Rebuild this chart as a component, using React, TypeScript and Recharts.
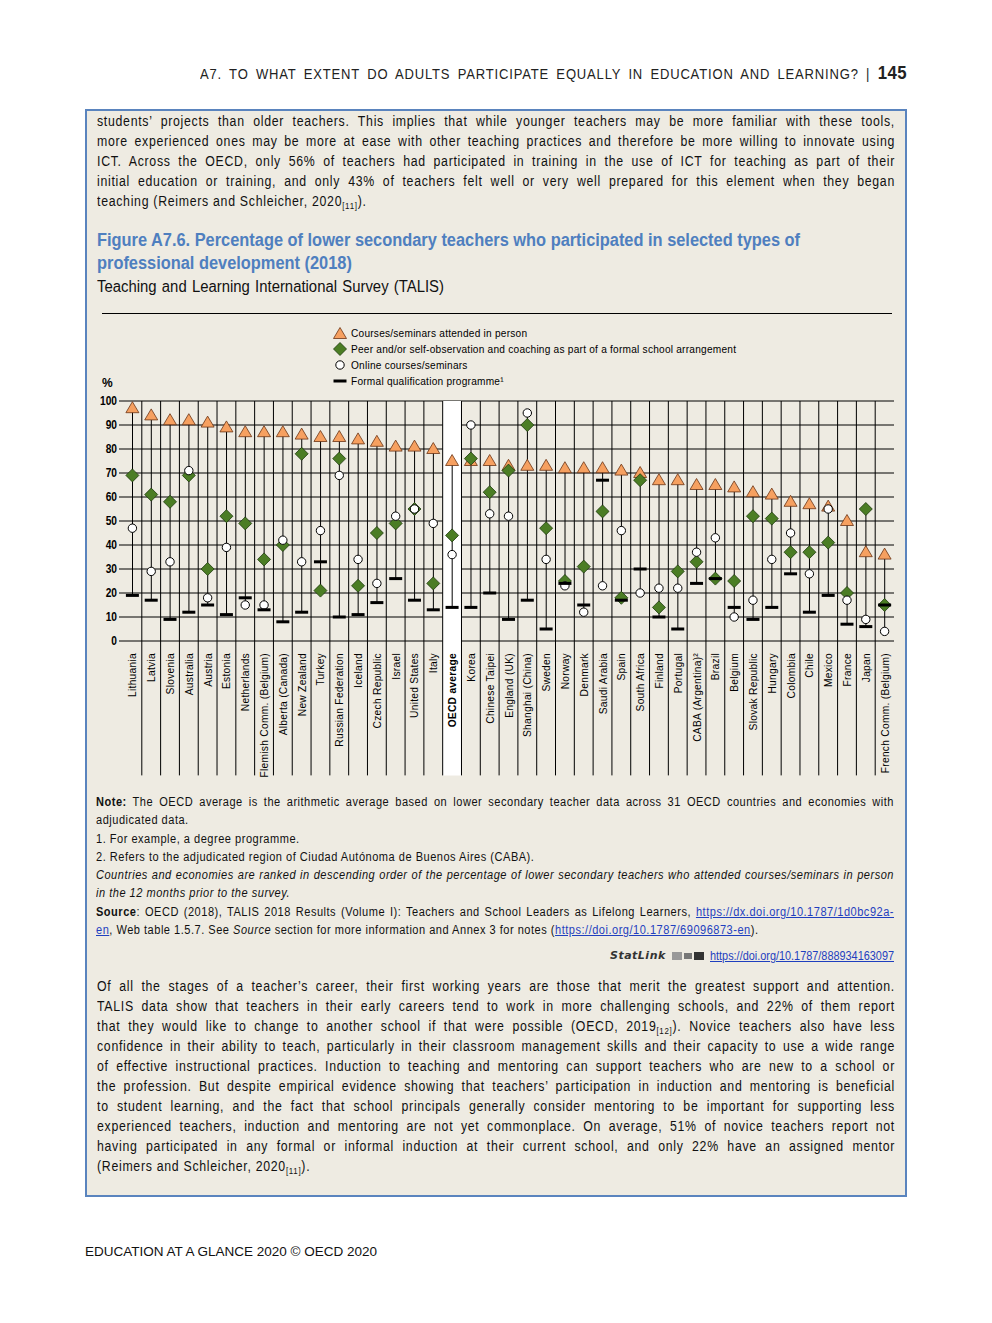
import React from "react";
import {
  ComposedChart,
  Bar,
  Line,
  XAxis,
  YAxis,
  CartesianGrid,
  ReferenceLine,
  ReferenceArea,
} from "recharts";

const categories = [
  "Lithuania", "Latvia", "Slovenia", "Australia", "Austria", "Estonia",
  "Netherlands", "Flemish Comm. (Belgium)", "Alberta (Canada)", "New Zealand",
  "Turkey", "Russian Federation", "Iceland", "Czech Republic", "Israel",
  "United States", "Italy", "OECD average", "Korea", "Chinese Taipei",
  "England (UK)", "Shanghai (China)", "Sweden", "Norway", "Denmark",
  "Saudi Arabia", "Spain", "South Africa", "Finland", "Portugal",
  "CABA (Argentina)²", "Brazil", "Belgium", "Slovak Republic", "Hungary",
  "Colombia", "Chile", "Mexico", "France", "Japan", "French Comm. (Belgium)",
];

const inPerson = [
  97, 94, 92, 92, 91, 89, 87, 87, 87, 86, 85, 85, 84, 83, 81, 81, 80, 75, 75,
  75, 73, 73, 73, 72, 72, 72, 71, 70, 67, 67, 65, 65, 64, 62, 61, 58, 57, 56,
  50, 37, 36,
];
const peer = [
  69, 61, 58, 69, 30, 52, 49, 34, 40, 78, 21, 76, 23, 45, 49, 55, 24, 44, 76,
  62, 71, 90, 47, 25, 31, 54, 18, 67, 14, 29, 33, 26, 25, 52, 51, 37, 37, 41,
  20, 55, 15,
];
const online = [
  47, 29, 33, 71, 18, 39, 15, 15, 42, 33, 46, 69, 34, 24, 52, 55, 49, 36, 90,
  53, 52, 95, 34, 23, 12, 23, 46, 20, 22, 22, 37, 43, 10, 17, 34, 45, 28, 55,
  17, 9, 4,
];
const formal = [
  19, 17, 9, 12, 15, 11, 18, 13, 8, 12, 33, 10, 11, 16, 26, 17, 13, 14, 14,
  20, 9, 17, 5, 24, 15, 67, 17, 30, 10, 5, 24, 26, 14, 9, 14, 28, 12, 19, 7,
  6, 15,
];
const yTicks = [0, 10, 20, 30, 40, 50, 60, 70, 80, 90, 100];
const OECD = "OECD average";

const data = categories.map((name, i) => {
  const vals = [inPerson[i], peer[i], online[i], formal[i]];
  return {
    idx: i,
    name,
    inPerson: inPerson[i],
    peer: peer[i],
    online: online[i],
    formal: formal[i],
    range: [Math.min(...vals), Math.max(...vals)],
  };
});

const SANS = '"Liberation Sans", Arial, sans-serif';
const ORANGE = "#F6A060";
const GREEN = "#4B7D24";
const LINK = "#1F3FBF";

const Triangle = ({ cx, cy }: any) =>
  cx == null ? null : (
    <polygon
      points={`${cx},${cy - 6.5} ${cx + 6.5},${cy + 4.5} ${cx - 6.5},${cy + 4.5}`}
      fill={ORANGE}
      stroke="#6b3414"
      strokeWidth={0.8}
    />
  );
const Diamond = ({ cx, cy }: any) =>
  cx == null ? null : (
    <polygon
      points={`${cx},${cy - 6.5} ${cx + 6.5},${cy} ${cx},${cy + 6.5} ${cx - 6.5},${cy}`}
      fill={GREEN}
      stroke="#1d3a0c"
      strokeWidth={0.8}
    />
  );
const Ring = ({ cx, cy }: any) =>
  cx == null ? null : (
    <circle cx={cx} cy={cy} r={4.2} fill="#fff" stroke="#000" strokeWidth={1} />
  );
const Dash = ({ cx, cy }: any) =>
  cx == null ? null : (
    <rect x={cx - 6.5} y={cy - 1.5} width={13} height={3} fill="#000" />
  );

const CountryTick = ({ x, y, payload }: any) => {
  const name = categories[payload.value];
  if (name == null) return null;
  const bold = name === OECD;
  return (
    <text
      transform={`translate(${x + 4}, ${y + 4}) rotate(-90) scale(0.93, 1)`}
      textAnchor="end"
      fontFamily={SANS}
      fontSize={11}
      letterSpacing={0.3}
      fontWeight={bold ? 700 : 400}
      fill="#000"
    >
      {name}
    </text>
  );
};

const ValueTick = ({ x, y, payload }: any) => (
  <text
    transform={`translate(${x}, ${y + 4}) scale(0.85, 1)`}
    textAnchor="end"
    fontFamily={SANS}
    fontSize={12}
    fontWeight={700}
    fill="#000"
  >
    {payload.value}
  </text>
);

// horizontally condensed block: mimics a narrow typeface with a regular one
const Narrow = ({ width, scale = 0.85, style, children }: any) => (
  <div style={{ width, ...style }}>
    <div
      style={{
        width: width / scale,
        transform: `scaleX(${scale})`,
        transformOrigin: "left top",
      }}
    >
      {children}
    </div>
  </div>
);

const Jl = ({ children, last, style }: any) => (
  <div
    style={{
      whiteSpace: "nowrap",
      textAlign: last ? "left" : "justify",
      textAlignLast: last ? "left" : "justify",
      ...style,
    }}
  >
    {children}
  </div>
);

const Sub = ({ children }: any) => (
  <span style={{ fontSize: 9, position: "relative", top: 3, lineHeight: 0 }}>
    {children}
  </span>
);
const A = ({ children }: any) => (
  <span style={{ color: LINK, textDecoration: "underline" }}>{children}</span>
);

const legendItems = [
  { label: "Courses/seminars attended in person", shape: "tri" },
  {
    label:
      "Peer and/or self-observation and coaching as part of a formal school arrangement",
    shape: "dia",
  },
  { label: "Online courses/seminars", shape: "ring" },
  { label: "Formal qualification programme¹", shape: "dash" },
];

const LegendIcon = ({ shape }: { shape: string }) => (
  <svg width={14} height={14} style={{ marginRight: 4, flex: "none" }}>
    {shape === "tri" && <Triangle cx={7} cy={8} />}
    {shape === "dia" && <Diamond cx={7} cy={7} />}
    {shape === "ring" && <Ring cx={7} cy={7} />}
    {shape === "dash" && <Dash cx={7} cy={7} />}
  </svg>
);

const para1 = [
  "students’ projects than older teachers. This implies that while younger teachers may be more familiar with these tools,",
  "more experienced ones may be more at ease with other teaching practices and therefore be more willing to innovate using",
  "ICT. Across the OECD, only 56% of teachers had participated in training in the use of ICT for teaching as part of their",
  "initial education or training, and only 43% of teachers felt well or very well prepared for this element when they began",
];

const para2 = [
  "Of all the stages of a teacher’s career, their first working years are those that merit the greatest support and attention.",
  "TALIS data show that teachers in their early careers tend to work in more challenging schools, and 22% of them report",
  null,
  "confidence in their ability to teach, particularly in their classroom management skills and their capacity to use a wide range",
  "of effective instructional practices. Induction to teaching and mentoring can support teachers who are new to a school or",
  "the profession. But despite empirical evidence showing that teachers’ participation in induction and mentoring is beneficial",
  "to student learning, and the fact that school principals generally consider mentoring to be important for supporting less",
  "experienced teachers, induction and mentoring are not yet commonplace. On average, 51% of novice teachers report not",
  "having participated in any formal or informal induction at their current school, and only 22% have an assigned mentor",
];

const bodyText: React.CSSProperties = {
  fontFamily: SANS,
  fontSize: 14,
  lineHeight: "20px",
  letterSpacing: 0.8,
  color: "#111",
};

export default function App() {
  return (
    <div
      style={{
        position: "absolute",
        left: 0,
        top: 0,
        width: 992,
        height: 1323,
        background: "#fff",
        overflow: "hidden",
      }}
    >
      {/* running header */}
      <Narrow
        width={707}
        scale={0.93}
        style={{
          position: "absolute",
          left: 200,
          top: 63,
          fontFamily: SANS,
          fontSize: 14,
          lineHeight: "20px",
          letterSpacing: 0.9,
          color: "#222",
        }}
      >
        <Jl>
          A7. TO WHAT EXTENT DO ADULTS PARTICIPATE EQUALLY IN EDUCATION AND
          LEARNING? |{" "}
          <span style={{ fontWeight: 700, fontSize: 18, letterSpacing: 0.5 }}>
            145
          </span>
        </Jl>
      </Narrow>

      {/* boxed content */}
      <div
        style={{
          position: "absolute",
          left: 85,
          top: 109,
          width: 822,
          height: 1088,
          boxSizing: "border-box",
          border: "2px solid #5A84BE",
          background: "#EEEBE2",
        }}
      />

      <Narrow
        width={798}
        scale={0.88}
        style={{ position: "absolute", left: 97, top: 111, ...bodyText }}
      >
        {para1.map((l, i) => (
          <Jl key={i}>{l}</Jl>
        ))}
        <Jl last>
          teaching (Reimers and Schleicher, 2020<Sub>[11]</Sub>).
        </Jl>
      </Narrow>

      <Narrow
        width={798}
        scale={0.91}
        style={{
          position: "absolute",
          left: 97,
          top: 229,
          fontFamily: SANS,
          fontSize: 18,
          lineHeight: "23px",
          fontWeight: 700,
          color: "#4F7FBF",
        }}
      >
        <div style={{ whiteSpace: "nowrap" }}>
          Figure A7.6. Percentage of lower secondary teachers who participated
          in selected types of
        </div>
        <div style={{ whiteSpace: "nowrap" }}>professional development (2018)</div>
      </Narrow>
      <Narrow
        width={347}
        scale={0.93}
        style={{
          position: "absolute",
          left: 97,
          top: 277,
          fontFamily: SANS,
          fontSize: 16,
          lineHeight: "20px",
          color: "#111",
        }}
      >
        <Jl>Teaching and Learning International Survey (TALIS)</Jl>
      </Narrow>
      <div
        style={{
          position: "absolute",
          left: 102,
          top: 313,
          width: 790,
          height: 1,
          background: "#000",
        }}
      />

      {/* legend */}
      <div
        style={{
          position: "absolute",
          left: 333,
          top: 325,
          color: "#000",
        }}
      >
        {legendItems.map((it) => (
          <div key={it.label} style={{ display: "flex", alignItems: "center", height: 16 }}>
            <LegendIcon shape={it.shape} />
            <Narrow
              width={420}
              scale={0.92}
              style={{
                fontFamily: SANS,
                fontSize: 11,
                lineHeight: "16px",
                letterSpacing: 0.25,
                whiteSpace: "nowrap",
              }}
            >
              {it.label}
            </Narrow>
          </div>
        ))}
      </div>
      <div
        style={{
          position: "absolute",
          left: 102,
          top: 376,
          fontFamily: SANS,
          fontSize: 12,
          fontWeight: 700,
          color: "#000",
        }}
      >
        %
      </div>

      {/* chart */}
      <div style={{ position: "absolute", left: 95, top: 325 }}>
        <ComposedChart
          width={805}
          height={455}
          data={data}
          margin={{ top: 76, right: 6, bottom: 0, left: 0 }}
        >
          <ReferenceArea
            x1={16.5}
            x2={17.5}
            y1={-56}
            y2={100}
            fill="#fff"
            fillOpacity={1}
            stroke="none"
            ifOverflow="visible"
          />
          <CartesianGrid vertical={false} stroke="#000" strokeWidth={1} />
          {categories.slice(1).map((_, i) => (
            <ReferenceLine
              key={`sep-${i}`}
              segment={[
                { x: i + 0.5, y: 100 },
                { x: i + 0.5, y: -56 },
              ]}
              stroke="#000"
              strokeWidth={1}
              ifOverflow="visible"
            />
          ))}
          <XAxis
            type="number"
            dataKey="idx"
            domain={[-0.5, categories.length - 0.5]}
            ticks={data.map((d) => d.idx)}
            interval={0}
            height={139}
            axisLine={false}
            tickLine={false}
            tick={<CountryTick />}
          />
          <YAxis
            type="number"
            domain={[0, 100]}
            ticks={yTicks}
            width={28}
            axisLine={false}
            tickLine={{ stroke: "#000" }}
            tickSize={4}
            tickMargin={2}
            tick={<ValueTick />}
          />
          <Bar dataKey="range" barSize={1} fill="#000" isAnimationActive={false} />
          <Line
            dataKey="inPerson"
            stroke="none"
            dot={(p: any) => <Triangle key={`t${p.index}`} {...p} />}
            activeDot={false}
            isAnimationActive={false}
          />
          <Line
            dataKey="peer"
            stroke="none"
            dot={(p: any) => <Diamond key={`d${p.index}`} {...p} />}
            activeDot={false}
            isAnimationActive={false}
          />
          <Line
            dataKey="online"
            stroke="none"
            dot={(p: any) => <Ring key={`o${p.index}`} {...p} />}
            activeDot={false}
            isAnimationActive={false}
          />
          <Line
            dataKey="formal"
            stroke="none"
            dot={(p: any) => <Dash key={`f${p.index}`} {...p} />}
            activeDot={false}
            isAnimationActive={false}
          />
        </ComposedChart>
      </div>

      {/* notes */}
      <Narrow
        width={798}
        scale={0.92}
        style={{
          position: "absolute",
          left: 96,
          top: 793,
          fontFamily: SANS,
          fontSize: 12,
          lineHeight: "18.3px",
          letterSpacing: 0.55,
          color: "#111",
        }}
      >
        <Jl>
          <b>Note:</b> The OECD average is the arithmetic average based on lower
          secondary teacher data across 31 OECD countries and economies with
        </Jl>
        <Jl last>adjudicated data.</Jl>
        <Jl last>1. For example, a degree programme.</Jl>
        <Jl last>
          2. Refers to the adjudicated region of Ciudad Autónoma de Buenos Aires
          (CABA).
        </Jl>
        <Jl style={{ fontStyle: "italic" }}>
          Countries and economies are ranked in descending order of the
          percentage of lower secondary teachers who attended courses/seminars
          in person
        </Jl>
        <Jl last style={{ fontStyle: "italic" }}>
          in the 12 months prior to the survey.
        </Jl>
        <Jl>
          <b>Source</b>: OECD (2018), TALIS 2018 Results (Volume I): Teachers
          and School Leaders as Lifelong Learners,{" "}
          <A>https://dx.doi.org/10.1787/1d0bc92a-</A>
        </Jl>
        <Jl last>
          <A>en</A>, Web table 1.5.7. See <i>Source</i> section for more
          information and Annex 3 for notes (
          <A>https://doi.org/10.1787/69096873-en</A>).
        </Jl>
      </Narrow>

      {/* StatLink line */}
      <div
        style={{
          position: "absolute",
          left: 610,
          top: 948,
          display: "flex",
          alignItems: "center",
          lineHeight: "16px",
        }}
      >
        <span
          style={{
            fontFamily: '"DejaVu Sans", Verdana, sans-serif',
            fontWeight: 700,
            fontStyle: "italic",
            fontSize: 11,
            color: "#333",
            letterSpacing: 0.5,
          }}
        >
          StatLink
        </span>
        <svg width={34} height={10} style={{ margin: "0 5px", flex: "none" }}>
          <rect x={1} y={1} width={10} height={8} fill="#999" />
          <rect x={13} y={2} width={8} height={6} fill="#777" />
          <rect x={23} y={1} width={10} height={8} fill="#333" />
        </svg>
        <Narrow
          width={185}
          scale={0.9}
          style={{
            fontFamily: SANS,
            fontSize: 12.1,
            color: LINK,
            whiteSpace: "nowrap",
          }}
        >
          <span style={{ textDecoration: "underline" }}>
            https://doi.org/10.1787/888934163097
          </span>
        </Narrow>
      </div>

      <Narrow
        width={798}
        scale={0.88}
        style={{ position: "absolute", left: 97, top: 976, ...bodyText }}
      >
        {para2.map((l, i) =>
          l == null ? (
            <Jl key={i}>
              that they would like to change to another school if that were
              possible (OECD, 2019<Sub>[12]</Sub>). Novice teachers also have
              less
            </Jl>
          ) : (
            <Jl key={i}>{l}</Jl>
          )
        )}
        <Jl last>
          (Reimers and Schleicher, 2020<Sub>[11]</Sub>).
        </Jl>
      </Narrow>

      <div
        style={{
          position: "absolute",
          left: 85,
          top: 1243,
          fontFamily: SANS,
          fontSize: 13.5,
          lineHeight: "18px",
          color: "#111",
        }}
      >
        EDUCATION AT A GLANCE 2020 © OECD 2020
      </div>
    </div>
  );
}
